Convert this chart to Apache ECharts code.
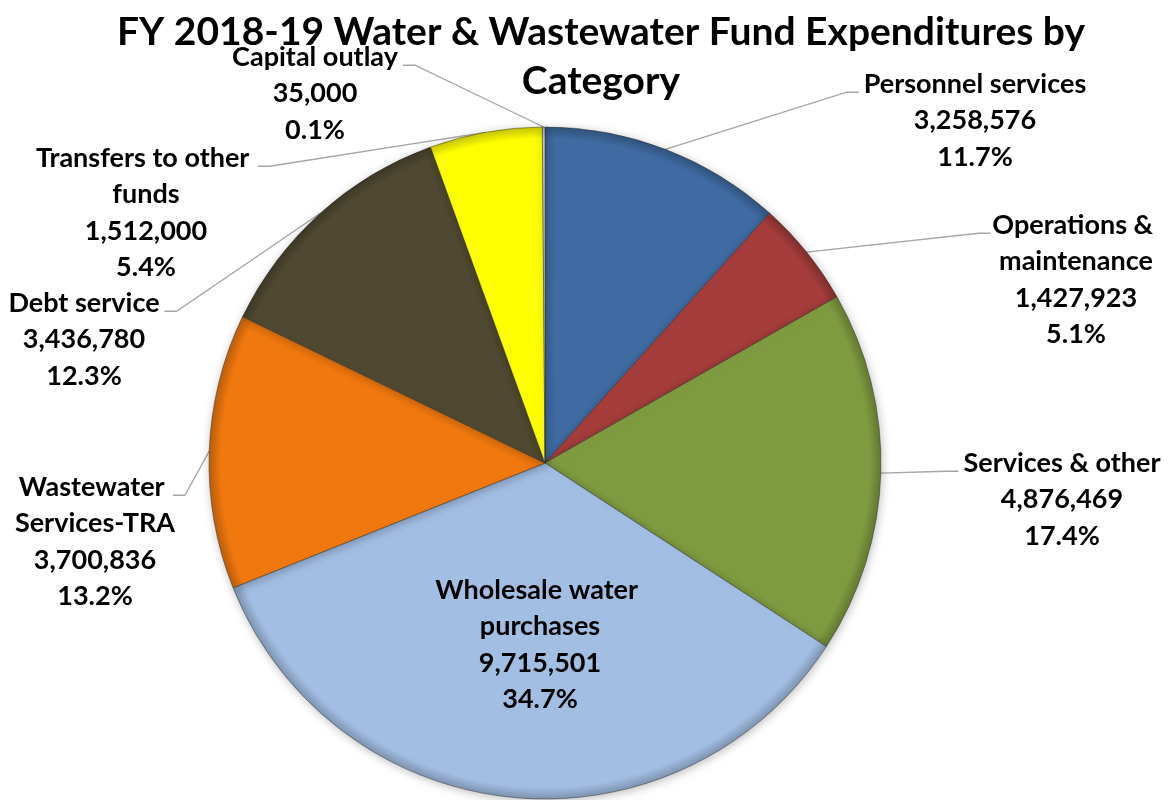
<!DOCTYPE html>
<html>
<head>
<meta charset="utf-8">
<title>FY 2018-19 Water &amp; Wastewater Fund Expenditures by Category</title>
<script src="https://cdn.jsdelivr.net/npm/echarts@6/dist/echarts.min.js"></script>
<style>
  html, body { margin: 0; padding: 0; background: #ffffff; }
  #chart { width: 1171px; height: 800px; }
</style>
</head>
<body>
<div id="chart"></div>
<script>
// Expenditure categories, clockwise from 12 o'clock
const categories = [
  'Personnel services',
  'Operations & maintenance',
  'Services & other',
  'Wholesale water purchases',
  'Wastewater Services-TRA',
  'Debt service',
  'Transfers to other funds',
  'Capital outlay'
];
const amounts = [3258576, 1427923, 4876469, 9715501, 3700836, 3436780, 1512000, 35000];
const sliceColors = ['#3F6BA2', '#A43D3B', '#7F9B40', '#A3BEE3', '#F0780F', '#4F4932', '#FFFF00', '#C8C8C8'];
const titleText = 'FY 2018-19 Water & Wastewater Fund Expenditures by\nCategory';

// Pie geometry and label placement (centre x / top y of each text block)
const PIE_CX = 545, PIE_CY = 463, PIE_R = 336;
const FONT = 'Lato, "Open Sans", "Noto Sans", sans-serif';
const LABEL_SIZE = 27, LINE_H = 36.5;
const labelSpots = [
  { x: 975,  y: 66 },
  { x: 1076, y: 207, wrap: 200 },
  { x: 1062, y: 445 },
  { x: 540,  y: 572, wrap: 270, inside: true },
  { x: 95,   y: 469, wrap: 188 },
  { x: 84,   y: 285 },
  { x: 146,  y: 140, wrap: 282 },
  { x: 315,  y: 39 }
];

const total = amounts.reduce((a, b) => a + b, 0);

const measureCtx = document.createElement('canvas').getContext('2d');
function textWidth(t) {
  measureCtx.font = 'bold ' + LABEL_SIZE + 'px ' + FONT;
  return measureCtx.measureText(t).width;
}
function firstLine(text, w) {
  if (!w) return text;
  const words = text.split(' ');
  let line = words[0];
  for (let i = 1; i < words.length; i++) {
    const t = line + ' ' + words[i];
    if (textWidth(t) <= w) line = t; else break;
  }
  return line;
}

function darker(hex, f) {
  const n = parseInt(hex.slice(1), 16);
  const r = Math.round(((n >> 16) & 255) * f);
  const g = Math.round(((n >> 8) & 255) * f);
  const b = Math.round((n & 255) * f);
  return 'rgb(' + r + ',' + g + ',' + b + ')';
}

const pieData = categories.map((name, i) => {
  const spot = labelSpots[i];
  const item = {
    name: name,
    value: amounts[i],
    itemStyle: {
      color: {
        type: 'radial', x: PIE_CX, y: PIE_CY, r: PIE_R, global: true,
        colorStops: [
          { offset: 0, color: sliceColors[i] },
          { offset: 0.965, color: sliceColors[i] },
          { offset: 1, color: darker(sliceColors[i], 0.78) }
        ]
      }
    },
    label: {}
  };
  if (spot.wrap) {
    item.label.width = spot.wrap;
    item.label.overflow = 'break';
  }
  if (spot.inside) {
    item.label.position = 'inside';
    item.labelLine = { show: false };
  }
  return item;
});

const chart = echarts.init(document.getElementById('chart'), null, { renderer: 'canvas' });

chart.setOption({
  backgroundColor: '#ffffff',
  animation: false,
  graphic: [{
    type: 'text',
    x: 601,
    y: 8,
    style: {
      text: titleText,
      align: 'center',
      verticalAlign: 'top',
      fontFamily: FONT,
      fontWeight: 'bold',
      fontSize: 39,
      lineHeight: 49,
      fill: '#000000'
    }
  }],
  series: [{
    type: 'pie',
    center: [PIE_CX, PIE_CY],
    radius: PIE_R,
    startAngle: 90,
    clockwise: true,
    avoidLabelOverlap: false,
    data: pieData,
    itemStyle: {
      borderColor: 'rgba(40,40,40,0.45)',
      borderWidth: 1,
      shadowBlur: 10,
      shadowColor: 'rgba(0,0,0,0.25)',
      shadowOffsetX: 1,
      shadowOffsetY: 2
    },
    label: {
      show: true,
      position: 'outside',
      color: '#000000',
      fontFamily: FONT,
      fontWeight: 'bold',
      fontSize: LABEL_SIZE,
      lineHeight: LINE_H,
      align: 'center',
      formatter: function (p) {
        const pct = (p.value / total * 100).toFixed(1);
        return p.name + '\n' + p.value.toLocaleString('en-US') + '\n' + pct + '%';
      }
    },
    labelLine: {
      show: true,
      length: 20,
      length2: 20,
      lineStyle: { color: '#A6A6A6', width: 1.3 }
    },
    labelLayout: function (p) {
      const spot = labelSpots[p.dataIndex];
      const res = { x: spot.x, y: spot.y, align: 'center', verticalAlign: 'top' };
      if (!spot.inside && p.labelLinePoints) {
        const edge = p.labelLinePoints[0];
        const w = textWidth(firstLine(categories[p.dataIndex], spot.wrap));
        const side = edge[0] > spot.x ? 1 : -1;
        const ly = spot.y + LINE_H / 2 + 8;
        const ax = spot.x + side * (w / 2 + 5);
        res.labelLinePoints = [edge, [ax + side * 12, ly], [ax, ly]];
      }
      return res;
    }
  }]
});
</script>
</body>
</html>
